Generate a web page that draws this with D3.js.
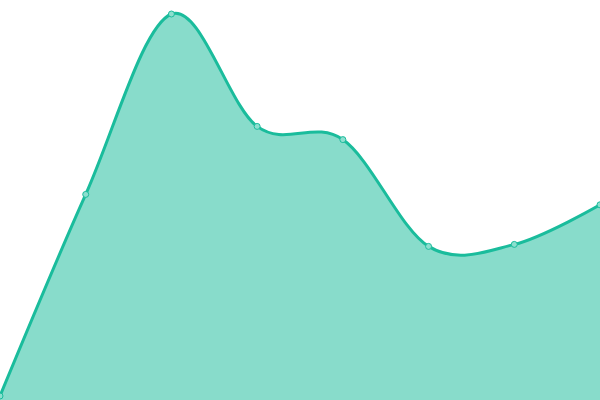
<!DOCTYPE html>
<html>
<head>
<meta charset="utf-8">
<script src="https://cdn.jsdelivr.net/npm/d3@7"></script>
<style>
  html, body { margin: 0; padding: 0; background: #fff; }
  svg { display: block; }
</style>
</head>
<body>
<svg id="chart" width="600" height="400"></svg>
<script>
const categories = ["1", "2", "3", "4", "5", "6", "7", "8"];
const values = [1, 51.4, 96.5, 68.4, 65.1, 38.4, 38.9, 48.8];

const width = 600;
const height = 400;
const color = "#1abc9c";

const svg = d3.select("#chart");

const xScale = d3
  .scalePoint()
  .domain(categories)
  .range([0, width]);

const yScale = d3
  .scaleLinear()
  .domain([0, 100])
  .range([height, 0]);

const data = categories.map((c, i) => ({ c, v: values[i] }));

const curve = d3.curveCardinal.tension(0);

const area = d3
  .area()
  .x((d) => xScale(d.c))
  .y0(yScale(0))
  .y1((d) => yScale(d.v))
  .curve(curve);

const line = d3
  .line()
  .x((d) => xScale(d.c))
  .y((d) => yScale(d.v))
  .curve(curve);

// filled area
svg
  .append("path")
  .datum(data)
  .attr("fill", color)
  .attr("fill-opacity", 0.52)
  .attr("d", area);

// outline
svg
  .append("path")
  .datum(data)
  .attr("fill", "none")
  .attr("stroke", color)
  .attr("stroke-width", 3)
  .attr("d", line);

// points
svg
  .selectAll("circle")
  .data(data)
  .join("circle")
  .attr("cx", (d) => xScale(d.c))
  .attr("cy", (d) => yScale(d.v))
  .attr("r", 3)
  .attr("fill", "#8ddfcf")
  .attr("stroke", color)
  .attr("stroke-width", 1);
</script>
</body>
</html>
